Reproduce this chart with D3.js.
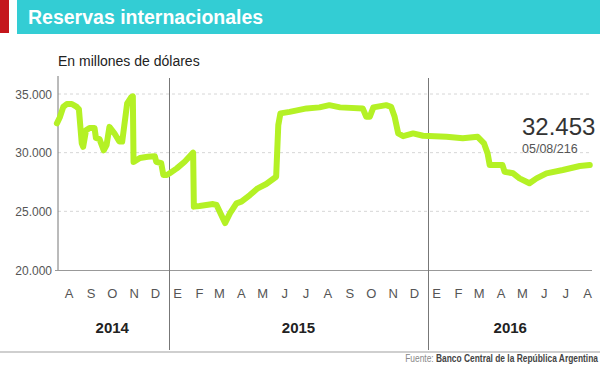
<!DOCTYPE html>
<html>
<head>
<meta charset="utf-8">
<script src="https://cdn.jsdelivr.net/npm/d3@7"></script>
<style>
  html, body { margin: 0; padding: 0; background: #fff; }
  svg { display: block; }
  text { font-family: "Liberation Sans", Arial, sans-serif; }
</style>
</head>
<body>
<svg id="chart" width="600" height="365"></svg>
<script>
// ---- Data ----
const dates = [
  "2014-07-27","2014-07-31","2014-08-05","2014-08-10","2014-08-17","2014-08-24","2014-08-27","2014-08-31",
  "2014-09-02","2014-09-06","2014-09-11","2014-09-18","2014-09-20","2014-09-25","2014-10-01","2014-10-05",
  "2014-10-09","2014-10-16","2014-10-23","2014-10-27","2014-11-03","2014-11-09","2014-11-11","2014-11-12",
  "2014-11-21","2014-12-02","2014-12-12","2014-12-14","2014-12-21","2014-12-24","2014-12-29","2015-01-02",
  "2015-01-12","2015-01-23","2015-02-04","2015-02-05","2015-02-13","2015-03-04","2015-03-09","2015-03-21",
  "2015-03-28","2015-04-06","2015-04-13","2015-04-25","2015-05-06","2015-05-18","2015-06-01","2015-06-04",
  "2015-06-07","2015-06-20","2015-07-14","2015-08-01","2015-08-15","2015-08-30","2015-10-01","2015-10-06",
  "2015-10-11","2015-10-16","2015-11-03","2015-11-10","2015-11-15","2015-11-20","2015-11-27","2015-12-11",
  "2015-12-25","2016-01-27","2016-02-19","2016-03-11","2016-03-20","2016-03-25","2016-03-28","2016-04-15",
  "2016-04-18","2016-04-30","2016-05-09","2016-05-23","2016-06-02","2016-06-16","2016-07-09","2016-08-02",
  "2016-08-16"
];
const reserves = [
  32500,33000,33900,34150,34150,33900,33700,30800,
  30500,31900,32100,32100,31250,31150,30200,30650,
  32200,31650,30950,30950,34200,34750,34800,29200,
  29550,29650,29700,29225,29100,28100,28100,28250,
  28660,29225,30000,25400,25450,25620,25540,24000,
  24850,25680,25820,26390,26960,27330,27950,32350,
  33350,33480,33770,33860,34050,33860,33770,33060,
  33060,33860,34050,33910,33060,31640,31410,31640,
  31440,31350,31220,31350,30790,29940,28940,28940,
  28370,28240,27810,27390,27810,28240,28520,28860,
  28940
];
const yTicks = [20000, 25000, 30000, 35000];
const monthLabels = ["A","S","O","N","D","E","F","M","A","M","J","J","A","S","O","N","D","E","F","M","A","M","J","J","A"];
const monthStarts = ["2014-08","2014-09","2014-10","2014-11","2014-12","2015-01","2015-02","2015-03","2015-04","2015-05","2015-06","2015-07","2015-08","2015-09","2015-10","2015-11","2015-12","2016-01","2016-02","2016-03","2016-04","2016-05","2016-06","2016-07","2016-08"];
const years = ["2014","2015","2016"];
const yearStarts = ["2015-01-01","2016-01-01"];
const title = "Reservas internacionales";
const subtitle = "En millones de dólares";
const lastValueLabel = "32.453";
const lastDateLabel = "05/08/216";

// ---- Chart ----
const parse = d3.timeParse("%Y-%m-%d");
const parseMonth = d3.timeParse("%Y-%m");
const data = dates.map((d, i) => ({ date: parse(d), value: reserves[i] }));

const svg = d3.select("#chart");
const x = d3.scaleTime()
  .domain([parse("2014-07-25"), parse("2016-08-20")])
  .range([55.5, 592.6]);
const y = d3.scaleLinear().domain([20000, 35000]).range([270, 94]);
const fmt = v => d3.format(",")(v).replace(/,/g, ".");

// header
svg.append("rect").attr("x", 0).attr("y", 0).attr("width", 9).attr("height", 33).attr("fill", "#c4161c");
svg.append("rect").attr("x", 17).attr("y", 0).attr("width", 583).attr("height", 34).attr("fill", "#33cdd4");
svg.append("text").attr("x", 28).attr("y", 24).attr("fill", "#fff")
  .attr("font-size", 19.5).attr("font-weight", "bold").text(title);
svg.append("text").attr("x", 58).attr("y", 66).attr("fill", "#222")
  .attr("font-family", "Roboto, 'Liberation Sans', Arial, sans-serif")
  .attr("font-size", 14).attr("font-weight", 500).text(subtitle);

// gridlines
svg.append("g").selectAll("line").data(yTicks.filter(t => t > 20000)).join("line")
  .attr("x1", 58).attr("x2", 592).attr("y1", d => y(d)).attr("y2", d => y(d))
  .attr("stroke", "#d6d6d6").attr("stroke-dasharray", "3,3").attr("stroke-width", 1);

// y axis labels
const yAxis = d3.axisLeft(y).tickValues(yTicks).tickFormat(fmt).tickSize(0).tickPadding(6);
const gy = svg.append("g").attr("transform", "translate(58,0)").call(yAxis);
gy.select(".domain").remove();
gy.selectAll("text").attr("font-size", 12).attr("fill", "#555")
  .attr("font-family", "'Liberation Sans', Arial, sans-serif").attr("dy", "0.35em");

// axis lines
svg.append("line").attr("x1", 58).attr("x2", 58).attr("y1", 76).attr("y2", 270)
  .attr("stroke", "#777").attr("stroke-width", 1);
svg.append("line").attr("x1", 55).attr("x2", 592).attr("y1", 270.5).attr("y2", 270.5)
  .attr("stroke", "#999").attr("stroke-width", 1);

// year separators
svg.append("g").selectAll("line").data(yearStarts).join("line")
  .attr("x1", d => Math.round(x(parse(d))) + 0.5).attr("x2", d => Math.round(x(parse(d))) + 0.5)
  .attr("y1", 78).attr("y2", 350).attr("stroke", "#777").attr("stroke-width", 1);

// line
const line = d3.line().x(d => x(d.date)).y(d => y(d.value)).curve(d3.curveLinear);
svg.append("path").datum(data).attr("d", line)
  .attr("fill", "none").attr("stroke", "#b4f125").attr("stroke-width", 6)
  .attr("stroke-linejoin", "round").attr("stroke-linecap", "round");

// month labels
svg.append("g").selectAll("text").data(monthStarts).join("text")
  .attr("x", (d) => x(d3.timeDay.offset(parseMonth(d), 12)))
  .attr("y", 298).attr("text-anchor", "middle")
  .attr("font-size", 13).attr("fill", "#555").text((d, i) => monthLabels[i]);

// year labels
const bounds = [x.domain()[0], parse(yearStarts[0]), parse(yearStarts[1]), x.domain()[1]];
svg.append("g").selectAll("text").data(years).join("text")
  .attr("x", (d, i) => (x(bounds[i]) + x(bounds[i + 1])) / 2)
  .attr("y", 333).attr("text-anchor", "middle")
  .attr("font-size", 15).attr("font-weight", "bold").attr("fill", "#222").text(d => d);

// last value annotation
svg.append("text").attr("x", 522).attr("y", 135).attr("font-size", 24).attr("font-weight", 300)
  .attr("fill", "#333").text(lastValueLabel);
svg.append("text").attr("x", 522).attr("y", 153).attr("font-size", 12.5)
  .attr("fill", "#555").text(lastDateLabel);

// footer
svg.append("line").attr("x1", 0).attr("x2", 600).attr("y1", 352).attr("y2", 352)
  .attr("stroke", "#cfcfcf").attr("stroke-width", 2);
const src = svg.append("g").attr("transform", "translate(598,362) scale(0.8,1)")
  .append("text").attr("x", 0).attr("y", 0).attr("text-anchor", "end")
  .attr("font-size", 10.5);
src.append("tspan").attr("fill", "#888").text("Fuente: ");
src.append("tspan").attr("fill", "#444").attr("font-weight", "bold").text("Banco Central de la República Argentina");
</script>
</body>
</html>
